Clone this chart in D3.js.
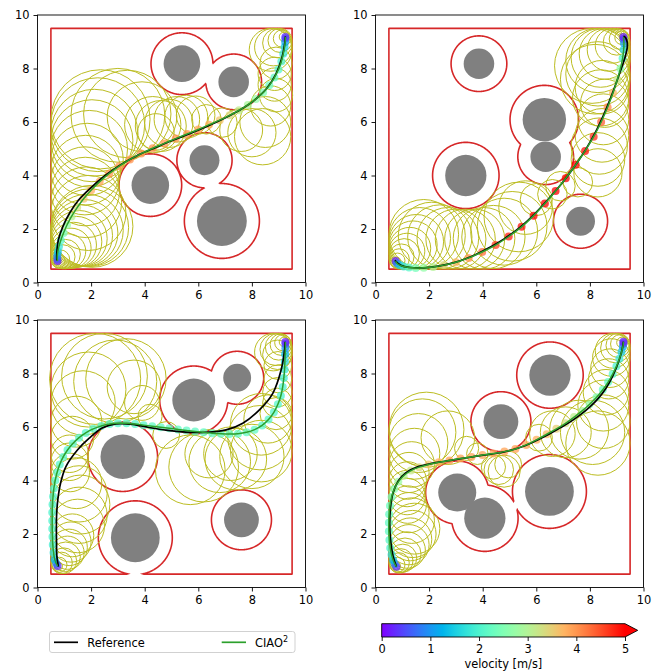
<!DOCTYPE html>
<html>
<head>
<meta charset="utf-8">
<script src="https://cdn.jsdelivr.net/npm/d3@7"></script>
<style>
    body { margin: 0; background: #fff; }
    text { font-family: "DejaVu Sans", sans-serif; }
</style>
</head>
<body>
<svg id="fig" width="663" height="672"></svg>
<script>
// obstacles: [cx, cy, radius] (gray discs), red contour = disc grown by MARGIN
const MARGIN = 0.47;
const obstacles1 = [[5.39, 8.18, 0.685], [7.32, 7.50, 0.57], [4.21, 3.64, 0.70], [6.88, 2.30, 0.93], [6.23, 4.57, 0.56]];
const obstacles2 = [[3.86, 8.18, 0.57], [6.30, 6.09, 0.81], [6.35, 4.70, 0.57], [3.37, 4.00, 0.77], [7.65, 2.29, 0.54]];
const obstacles3 = [[3.18, 4.89, 0.83], [3.65, 1.86, 0.91], [5.83, 7.01, 0.80], [7.45, 7.84, 0.52], [7.61, 2.53, 0.65]];
const obstacles4 = [[6.51, 7.94, 0.77], [4.68, 6.20, 0.65], [3.05, 3.55, 0.71], [4.08, 2.59, 0.77], [6.49, 3.59, 0.91]];

// olive circles: [cx, cy, r]
const circles1 = [
    [0.72, 0.8, 0.15], [0.78, 0.8, 0.25], [0.85, 0.87, 0.35], [0.95, 0.96, 0.45], [1.05, 1.06, 0.55],
    [1.15, 1.17, 0.65], [1.25, 1.28, 0.75], [1.35, 1.4, 0.85], [1.45, 1.52, 0.95], [1.55, 1.64, 1.05],
    [1.65, 1.75, 1.15], [1.75, 1.85, 1.25], [1.85, 1.95, 1.35], [1.95, 2.05, 1.45], [2.03, 2.1, 1.53],
    [1.9, 2.6, 1.4], [1.82, 3.0, 1.32], [1.78, 3.4, 1.28], [1.77, 3.8, 1.27], [1.8, 4.2, 1.3],
    [1.85, 4.6, 1.35], [1.93, 5.0, 1.43], [2.03, 5.3, 1.53], [2.12, 5.6, 1.62], [2.25, 5.9, 1.75],
    [2.35, 6.1, 1.85], [3.0, 6.25, 1.75], [3.35, 6.3, 1.63], [3.9, 6.2, 1.3], [4.3, 5.9, 1.05],
    [4.42, 5.63, 0.68], [4.6, 5.85, 0.95], [4.9, 5.95, 0.9], [5.2, 6.1, 0.85], [5.55, 6.2, 0.8],
    [5.9, 6.25, 0.72], [6.3, 6.1, 0.55], [6.9, 5.98, 0.55], [7.6, 5.7, 0.8], [8.0, 5.6, 0.9],
    [8.4, 5.45, 1.05], [8.5, 6.0, 0.95], [8.7, 6.6, 0.75], [8.9, 7.0, 0.62], [8.85, 7.4, 0.62],
    [8.85, 7.8, 0.62], [8.9, 8.2, 0.6], [8.7, 8.7, 0.8], [8.8, 8.8, 0.7], [8.95, 8.95, 0.55],
    [9.05, 9.05, 0.45], [9.12, 9.12, 0.32], [9.2, 9.18, 0.18]
];
const circles2 = [
    [0.78, 0.8, 0.15], [0.82, 0.82, 0.28], [0.88, 0.88, 0.38], [0.97, 0.97, 0.47], [1.07, 1.07, 0.57],
    [1.17, 1.17, 0.67], [1.28, 1.28, 0.78], [1.4, 1.4, 0.9], [1.52, 1.52, 1.02], [1.65, 1.65, 1.15],
    [1.8, 1.8, 1.3], [2.1, 1.75, 1.25], [2.4, 1.7, 1.2], [2.7, 1.65, 1.15], [3.0, 1.62, 1.12],
    [3.35, 1.62, 1.12], [3.7, 1.62, 1.12], [4.05, 1.65, 1.15], [4.4, 1.7, 1.18], [4.8, 1.9, 1.25],
    [5.1, 2.1, 1.3], [5.35, 2.45, 1.3], [5.6, 2.8, 1.0], [6.0, 3.1, 0.6], [6.6, 3.3, 0.55],
    [6.9, 3.6, 0.55], [7.55, 3.75, 0.55], [8.3, 4.1, 0.9], [8.3, 4.6, 1.0], [8.35, 5.1, 1.05],
    [8.45, 5.5, 1.0], [8.5, 6.1, 0.95], [8.55, 6.7, 0.9], [8.4, 6.9, 1.05], [8.45, 7.3, 1.0],
    [8.3, 7.8, 1.2], [8.2, 7.6, 1.3], [8.08, 8.1, 1.4], [8.3, 8.3, 1.2], [8.4, 8.4, 1.1],
    [8.55, 8.55, 0.95], [8.7, 8.7, 0.8], [8.85, 8.85, 0.65], [9.0, 9.0, 0.5], [9.1, 9.1, 0.38],
    [9.18, 9.15, 0.25], [9.22, 9.18, 0.13]
];
const circles3 = [
    [0.78, 0.8, 0.15], [0.82, 0.85, 0.28], [0.9, 0.92, 0.4], [0.98, 1.0, 0.48], [1.05, 1.15, 0.55],
    [1.12, 1.3, 0.62], [1.18, 1.5, 0.68], [1.25, 1.7, 0.75], [1.3, 1.95, 0.8], [1.5, 2.3, 1.0],
    [1.55, 2.7, 1.05], [1.6, 3.1, 1.1], [1.55, 3.5, 1.05], [1.45, 3.9, 0.95], [1.22, 4.3, 0.72],
    [1.2, 4.7, 0.7], [1.2, 5.0, 0.7], [1.3, 5.6, 0.8], [1.45, 6.2, 0.95], [1.7, 6.9, 1.2],
    [1.9, 7.4, 1.4], [2.15, 7.8, 1.7], [2.5, 7.9, 1.6], [2.9, 7.7, 1.55], [3.3, 7.8, 1.5],
    [3.6, 7.5, 1.0], [3.9, 6.9, 0.65], [4.2, 6.4, 0.45], [4.8, 5.7, 0.5], [5.7, 4.4, 1.3],
    [6.2, 4.5, 1.3], [6.4, 5.0, 0.9], [6.8, 4.7, 1.15], [7.2, 5.0, 1.0], [7.4, 4.8, 1.15],
    [8.0, 4.9, 1.2], [8.35, 5.1, 1.15], [8.3, 5.6, 1.2], [8.35, 6.1, 1.15], [8.6, 6.3, 0.9],
    [8.9, 6.5, 0.6], [8.95, 6.9, 0.55], [8.95, 7.3, 0.55], [8.97, 7.8, 0.52], [8.97, 8.3, 0.52],
    [8.95, 8.7, 0.55], [8.8, 8.8, 0.7], [8.9, 8.9, 0.6], [9.0, 9.0, 0.5], [9.08, 9.08, 0.4],
    [9.15, 9.15, 0.3], [9.2, 9.18, 0.18]
];
const circles4 = [
    [0.78, 0.8, 0.15], [0.82, 0.85, 0.28], [0.88, 0.92, 0.38], [0.95, 1.0, 0.45], [1.02, 1.1, 0.52],
    [1.1, 1.25, 0.6], [1.18, 1.4, 0.68], [1.25, 1.6, 0.75], [1.3, 1.8, 0.8], [1.38, 2.0, 0.88],
    [1.45, 2.2, 0.95], [1.35, 2.5, 0.85], [1.25, 2.8, 0.75], [1.2, 3.1, 0.7], [1.18, 3.4, 0.68],
    [1.18, 3.7, 0.68], [1.2, 4.0, 0.7], [1.25, 4.3, 0.75], [1.35, 4.6, 0.85], [1.45, 5.0, 0.95],
    [1.6, 5.4, 1.1], [1.75, 5.8, 1.25], [1.9, 5.9, 1.4], [2.7, 5.6, 1.0], [3.4, 5.2, 0.45],
    [3.8, 5.0, 0.4], [4.4, 4.5, 0.45], [4.6, 4.4, 0.55], [4.8, 4.35, 0.6], [4.95, 4.6, 0.5],
    [6.1, 5.6, 0.5], [6.6, 5.75, 0.85], [7.1, 5.8, 0.95], [7.6, 5.9, 1.1], [8.1, 5.8, 1.2],
    [8.3, 5.4, 1.2], [8.5, 6.2, 1.0], [8.5, 6.8, 0.95], [8.6, 7.3, 0.85], [8.7, 7.8, 0.75],
    [8.75, 8.2, 0.72], [8.8, 8.6, 0.7], [8.85, 8.85, 0.65], [8.95, 8.95, 0.55], [9.05, 9.05, 0.45],
    [9.12, 9.1, 0.35], [9.2, 9.16, 0.2]
];

// CIAO trajectory samples: [x, y, velocity m/s]
const ciao1 = [
    [0.75, 0.80, 0.2], [0.74, 0.88, 0.6], [0.74, 1.0, 1.0], [0.76, 1.15, 1.4], [0.8, 1.35, 1.8],
    [0.87, 1.58, 2.1], [0.97, 1.85, 2.4], [1.1, 2.15, 2.7], [1.27, 2.47, 3.0], [1.48, 2.8, 3.3],
    [1.72, 3.13, 3.6], [2.0, 3.45, 3.8], [2.32, 3.77, 3.9], [2.67, 4.07, 4.0], [3.05, 4.35, 4.0],
    [3.45, 4.6, 4.0], [3.87, 4.82, 4.0], [4.3, 5.02, 4.0], [4.73, 5.2, 4.0], [5.16, 5.38, 4.0],
    [5.58, 5.55, 4.0], [6.0, 5.72, 3.9], [6.4, 5.9, 3.8], [6.8, 6.07, 3.6], [7.17, 6.25, 3.4],
    [7.52, 6.44, 3.1], [7.85, 6.64, 2.9], [8.15, 6.86, 2.7], [8.42, 7.1, 2.5], [8.65, 7.37, 2.3],
    [8.84, 7.66, 2.2], [8.99, 7.96, 2.1], [9.1, 8.26, 2.0], [9.17, 8.55, 1.8], [9.22, 8.8, 1.5],
    [9.24, 9.0, 1.1], [9.25, 9.12, 0.7], [9.25, 9.18, 0.3]
];
const ciao2 = [
    [0.75, 0.8, 0.2], [0.8, 0.72, 0.8], [0.9, 0.65, 1.4], [1.05, 0.6, 1.8], [1.25, 0.56, 2.1],
    [1.5, 0.54, 2.4], [1.8, 0.55, 2.7], [2.15, 0.58, 3.0], [2.55, 0.65, 3.4], [3.0, 0.76, 3.7],
    [3.48, 0.92, 4.0], [3.98, 1.14, 4.3], [4.48, 1.4, 4.6], [4.97, 1.72, 4.8], [5.45, 2.08, 4.9],
    [5.9, 2.5, 5.0], [6.32, 2.95, 5.0], [6.72, 3.42, 5.0], [7.1, 3.9, 5.0], [7.47, 4.4, 5.0],
    [7.82, 4.92, 4.9], [8.14, 5.45, 4.7], [8.42, 6.0, 4.4], [8.66, 6.55, 4.1], [8.86, 7.08, 3.7],
    [9.02, 7.58, 3.2], [9.14, 8.0, 2.6], [9.22, 8.38, 2.1], [9.26, 8.7, 1.6], [9.27, 8.94, 1.1],
    [9.26, 9.1, 0.6], [9.25, 9.18, 0.2]
];
const ciao3 = [
    [0.75, 0.8, 0.3], [0.7, 0.9, 0.8], [0.64, 1.05, 1.3], [0.6, 1.3, 1.7], [0.57, 1.6, 1.9],
    [0.56, 1.9, 2.0], [0.55, 2.2, 2.0], [0.55, 2.5, 2.0], [0.55, 2.8, 2.0], [0.56, 3.1, 2.0],
    [0.58, 3.4, 2.0], [0.61, 3.7, 2.0], [0.66, 4.0, 2.1], [0.73, 4.3, 2.1], [0.83, 4.6, 2.1],
    [0.96, 4.88, 2.1], [1.12, 5.14, 2.1], [1.32, 5.38, 2.1], [1.55, 5.6, 2.1], [1.8, 5.78, 2.1],
    [2.08, 5.93, 2.1], [2.38, 6.04, 2.1], [2.69, 6.11, 2.1], [3.0, 6.14, 2.1], [3.32, 6.14, 2.1],
    [3.64, 6.11, 2.1], [3.96, 6.07, 2.1], [4.28, 6.03, 2.2], [4.6, 5.99, 2.2], [4.92, 5.95, 2.2],
    [5.24, 5.91, 2.2], [5.56, 5.87, 2.2], [5.88, 5.83, 2.2], [6.2, 5.8, 2.2], [6.52, 5.77, 2.2],
    [6.84, 5.75, 2.2], [7.16, 5.74, 2.2], [7.48, 5.75, 2.2], [7.8, 5.8, 2.2], [8.1, 5.9, 2.2],
    [8.38, 6.06, 2.1], [8.62, 6.28, 2.1], [8.82, 6.55, 2.1], [8.97, 6.85, 2.1], [9.08, 7.17, 2.0],
    [9.15, 7.5, 2.0], [9.19, 7.83, 1.9], [9.22, 8.15, 1.8], [9.23, 8.45, 1.6], [9.24, 8.72, 1.3],
    [9.25, 8.94, 1.0], [9.25, 9.1, 0.6], [9.25, 9.18, 0.2]
];
const ciao4 = [
    [0.78, 0.78, 0.3], [0.72, 0.88, 0.8], [0.66, 1.02, 1.3], [0.6, 1.22, 1.7], [0.55, 1.48, 2.0],
    [0.52, 1.78, 2.1], [0.5, 2.1, 2.2], [0.5, 2.42, 2.2], [0.51, 2.74, 2.2], [0.54, 3.06, 2.3],
    [0.6, 3.38, 2.4], [0.7, 3.68, 2.6], [0.85, 3.95, 2.8], [1.05, 4.18, 3.0], [1.32, 4.37, 3.2],
    [1.63, 4.5, 3.4], [1.98, 4.6, 3.6], [2.36, 4.68, 3.8], [2.76, 4.75, 3.9], [3.17, 4.82, 3.9],
    [3.58, 4.88, 3.9], [3.99, 4.95, 3.9], [4.4, 5.01, 3.9], [4.81, 5.08, 3.9], [5.22, 5.18, 3.9],
    [5.62, 5.33, 3.9], [6.01, 5.52, 3.8], [6.39, 5.73, 3.7], [6.75, 5.93, 3.5], [7.09, 6.14, 3.3],
    [7.41, 6.37, 3.1], [7.71, 6.6, 2.9], [7.99, 6.85, 2.7], [8.25, 7.11, 2.5], [8.48, 7.39, 2.3],
    [8.68, 7.68, 2.2], [8.85, 7.98, 2.1], [8.99, 8.27, 2.0], [9.1, 8.55, 1.8], [9.18, 8.8, 1.5],
    [9.23, 9.0, 1.1], [9.25, 9.13, 0.6], [9.25, 9.19, 0.2]
];

// reference trajectories (black)
const ref1 = [[0.72, 0.82], [0.72, 1.1], [0.78, 1.6], [0.95, 2.1], [1.2, 2.6], [1.55, 3.1], [2.0, 3.55],
    [2.5, 3.98], [3.05, 4.37], [3.67, 4.72], [4.3, 5.0], [5.0, 5.3], [5.7, 5.57], [6.4, 5.87],
    [7.05, 6.18], [7.6, 6.48], [8.1, 6.82], [8.55, 7.25], [8.9, 7.8], [9.12, 8.4], [9.22, 8.9], [9.25, 9.2]];
const ref2 = [[0.72, 0.83], [0.95, 0.64], [1.3, 0.56], [1.8, 0.55], [2.4, 0.62], [3.0, 0.76], [3.6, 0.98],
    [4.2, 1.28], [4.8, 1.63], [5.4, 2.07], [5.95, 2.58], [6.45, 3.12], [6.95, 3.7], [7.4, 4.3],
    [7.82, 4.93], [8.2, 5.6], [8.55, 6.35], [8.85, 7.1], [9.12, 7.85], [9.32, 8.45], [9.4, 8.85],
    [9.37, 9.07], [9.3, 9.18], [9.25, 9.2]];
const ref3 = [[0.78, 0.78], [0.72, 1.2], [0.71, 1.66], [0.71, 2.65], [0.76, 3.3], [0.86, 3.9], [1.06, 4.52],
    [1.49, 5.14], [1.93, 5.58], [2.43, 5.97], [2.93, 6.12], [3.55, 6.1], [4.17, 5.98], [4.79, 5.88],
    [5.54, 5.81], [6.29, 5.8], [7.04, 5.89], [7.66, 6.14], [8.28, 6.64], [8.78, 7.26], [9.09, 8.13],
    [9.22, 8.88], [9.24, 9.19]];
const ref4 = [[0.78, 0.78], [0.65, 1.2], [0.56, 1.8], [0.53, 2.4], [0.56, 3.0], [0.66, 3.55], [0.85, 3.98],
    [1.15, 4.3], [1.55, 4.5], [2.03, 4.62], [2.53, 4.71], [3.03, 4.79], [3.53, 4.87], [4.02, 4.95],
    [4.52, 5.02], [5.02, 5.12], [5.52, 5.28], [6.01, 5.5], [6.47, 5.73], [6.89, 5.97], [7.28, 6.2],
    [7.65, 6.46], [8.0, 6.75], [8.32, 7.08], [8.6, 7.45], [8.85, 7.9], [9.05, 8.38], [9.18, 8.8],
    [9.24, 9.1], [9.25, 9.19]];

const xTicks = [0, 2, 4, 6, 8, 10];
const cbTicks = [0, 1, 2, 3, 4, 5];
const legendNames = ['Reference', 'CIAO'];

// matplotlib "rainbow"
function rainbow(t) {
    t = Math.max(0, Math.min(1, t));
    let r = Math.min(1, Math.abs(2 * t - 0.5)),
        g = Math.sin(Math.PI * t),
        b = Math.cos(Math.PI * t / 2);
    return d3.rgb(r * 255, g * 255, b * 255).formatHex();
}
let vColor = d3.scaleSequential(rainbow).domain([0, 5]);

let svg = d3.select('#fig');
let FS = 11.4;

let panelW = 268, panelH = 267.5;
let boxes = [
    {left: 37.5, top: 15}, {left: 375.5, top: 15},
    {left: 37.5, top: 320}, {left: 375.5, top: 320}
];

function draw_panel(box, obstacles, circles, ciao, ref) {
    let xs = d3.scaleLinear().domain([0, 10]).range([box.left, box.left + panelW]);
    let ys = d3.scaleLinear().domain([0, 10]).range([box.top + panelH, box.top]);
    let g = svg.append('g');

    // gray obstacles
    g.selectAll('circle.obs')
        .data(obstacles)
        .enter()
        .append('circle')
        .attr('cx', d => xs(d[0]))
        .attr('cy', d => ys(d[1]))
        .attr('r', d => xs(d[2]) - xs(0))
        .attr('fill', '#808080');

    // red boundary of the free space
    let N = 500, step = 10 / N;
    let vals = new Float64Array(N * N);
    for (let j = 0; j < N; j++) {
        for (let i = 0; i < N; i++) {
            let x = (i + 0.5) * step, y = (j + 0.5) * step;
            let f = Math.min(x - 0.5, 9.5 - x, y - 0.5, 9.5 - y);
            obstacles.forEach(o => {
                f = Math.min(f, Math.hypot(x - o[0], y - o[1]) - (o[2] + MARGIN));
            });
            vals[j * N + i] = f;
        }
    }
    let cont = d3.contours().size([N, N]).thresholds([0])(vals);
    let proj = d3.geoTransform({
        point: function (px, py) {
            this.stream.point(xs(px * step), ys(py * step));
        }
    });
    g.append('path')
        .attr('d', d3.geoPath(proj)(cont[0]))
        .attr('fill', 'none')
        .attr('stroke', '#d62728')
        .attr('stroke-width', 1.6);

    // olive circles
    g.selectAll('circle.ball')
        .data(circles)
        .enter()
        .append('circle')
        .attr('cx', d => xs(d[0]))
        .attr('cy', d => ys(d[1]))
        .attr('r', d => xs(d[2]) - xs(0))
        .attr('fill', 'none')
        .attr('stroke', '#bcbd22')
        .attr('stroke-width', 1);

    // velocity dots
    g.selectAll('circle.vel')
        .data(ciao)
        .enter()
        .append('circle')
        .attr('cx', d => xs(d[0]))
        .attr('cy', d => ys(d[1]))
        .attr('r', 4)
        .attr('fill', d => vColor(d[2]))
        .attr('opacity', 0.75);

    let line = d3.line()
        .x(d => xs(d[0]))
        .y(d => ys(d[1]))
        .curve(d3.curveCatmullRom);
    g.append('path')
        .attr('d', line(ref))
        .attr('fill', 'none')
        .attr('stroke', '#000')
        .attr('stroke-width', 1.7);
    g.append('path')
        .attr('d', line(ciao))
        .attr('fill', 'none')
        .attr('stroke', '#2ca02c')
        .attr('stroke-width', 1.5);

    // axes
    let ax = svg.append('g')
        .attr('transform', 'translate(0,' + (box.top + panelH) + ')')
        .call(d3.axisBottom(xs).tickValues(xTicks).tickSize(4).tickSizeOuter(0).tickPadding(4.5));
    let ay = svg.append('g')
        .attr('transform', 'translate(' + box.left + ',0)')
        .call(d3.axisLeft(ys).tickValues(xTicks).tickSize(4).tickSizeOuter(0).tickPadding(4));
    [ax, ay].forEach(a => {
        a.select('.domain').remove();
        a.selectAll('line').attr('stroke', '#000').attr('stroke-width', 0.9);
        a.selectAll('text').attr('font-size', FS).attr('fill', '#000')
            .style('font-family', '"DejaVu Sans", sans-serif');
    });
    svg.append('rect')
        .attr('x', box.left)
        .attr('y', box.top)
        .attr('width', panelW)
        .attr('height', panelH)
        .attr('fill', 'none')
        .attr('stroke', '#000')
        .attr('stroke-width', 0.9);
}

draw_panel(boxes[0], obstacles1, circles1, ciao1, ref1);
draw_panel(boxes[1], obstacles2, circles2, ciao2, ref2);
draw_panel(boxes[2], obstacles3, circles3, ciao3, ref3);
draw_panel(boxes[3], obstacles4, circles4, ciao4, ref4);

// legend
let lg = svg.append('g');
lg.append('rect')
    .attr('x', 49.5).attr('y', 631.5)
    .attr('width', 245.5).attr('height', 21)
    .attr('rx', 2.5)
    .attr('fill', '#fff')
    .attr('stroke', '#cccccc')
    .attr('stroke-width', 0.9);
lg.append('line').attr('x1', 54).attr('x2', 78).attr('y1', 642.3).attr('y2', 642.3)
    .attr('stroke', '#000').attr('stroke-width', 1.7);
lg.append('text').attr('x', 87.3).attr('y', 646.5).attr('font-size', FS).text(legendNames[0]);
lg.append('line').attr('x1', 221.7).attr('x2', 246).attr('y1', 642.3).attr('y2', 642.3)
    .attr('stroke', '#2ca02c').attr('stroke-width', 1.7);
let t2 = lg.append('text').attr('x', 255).attr('y', 646.5).attr('font-size', FS);
t2.append('tspan').text(legendNames[1]);
t2.append('tspan').attr('dy', -4.5).attr('font-size', 8).text('2');

// colorbar
let cbX = d3.scaleLinear().domain([0, 5]).range([381.7, 625]);
let cbTop = 623.7, cbBot = 637;
let defs = svg.append('defs');
let grad = defs.append('linearGradient').attr('id', 'cbgrad')
    .attr('x1', '0%').attr('x2', '100%').attr('y1', '0%').attr('y2', '0%');
d3.range(0, 1.0001, 0.05).forEach(t => {
    grad.append('stop').attr('offset', (t * 100) + '%').attr('stop-color', rainbow(t));
});
svg.append('rect')
    .attr('x', cbX(0)).attr('y', cbTop)
    .attr('width', cbX(5) - cbX(0)).attr('height', cbBot - cbTop)
    .attr('fill', 'url(#cbgrad)');
svg.append('path')
    .attr('d', 'M' + cbX(5) + ',' + cbTop + 'L' + (cbX(5) + 12.7) + ',' + ((cbTop + cbBot) / 2) +
        'L' + cbX(5) + ',' + cbBot + 'Z')
    .attr('fill', vColor(5));
svg.append('path')
    .attr('d', 'M' + cbX(0) + ',' + cbTop + 'L' + cbX(5) + ',' + cbTop + 'L' + (cbX(5) + 12.7) + ',' +
        ((cbTop + cbBot) / 2) + 'L' + cbX(5) + ',' + cbBot + 'L' + cbX(0) + ',' + cbBot + 'Z')
    .attr('fill', 'none')
    .attr('stroke', '#000')
    .attr('stroke-width', 0.9);
let cba = svg.append('g')
    .attr('transform', 'translate(0,' + cbBot + ')')
    .call(d3.axisBottom(cbX).tickValues(cbTicks).tickFormat(d3.format('d'))
        .tickSize(4).tickSizeOuter(0).tickPadding(4));
cba.select('.domain').remove();
cba.selectAll('line').attr('stroke', '#000').attr('stroke-width', 0.9);
cba.selectAll('text').attr('font-size', FS).attr('fill', '#000')
    .style('font-family', '"DejaVu Sans", sans-serif');
svg.append('text')
    .attr('x', (cbX(0) + cbX(5)) / 2)
    .attr('y', 668)
    .attr('text-anchor', 'middle')
    .attr('font-size', FS)
    .text('velocity [m/s]');
</script>
</body>
</html>
